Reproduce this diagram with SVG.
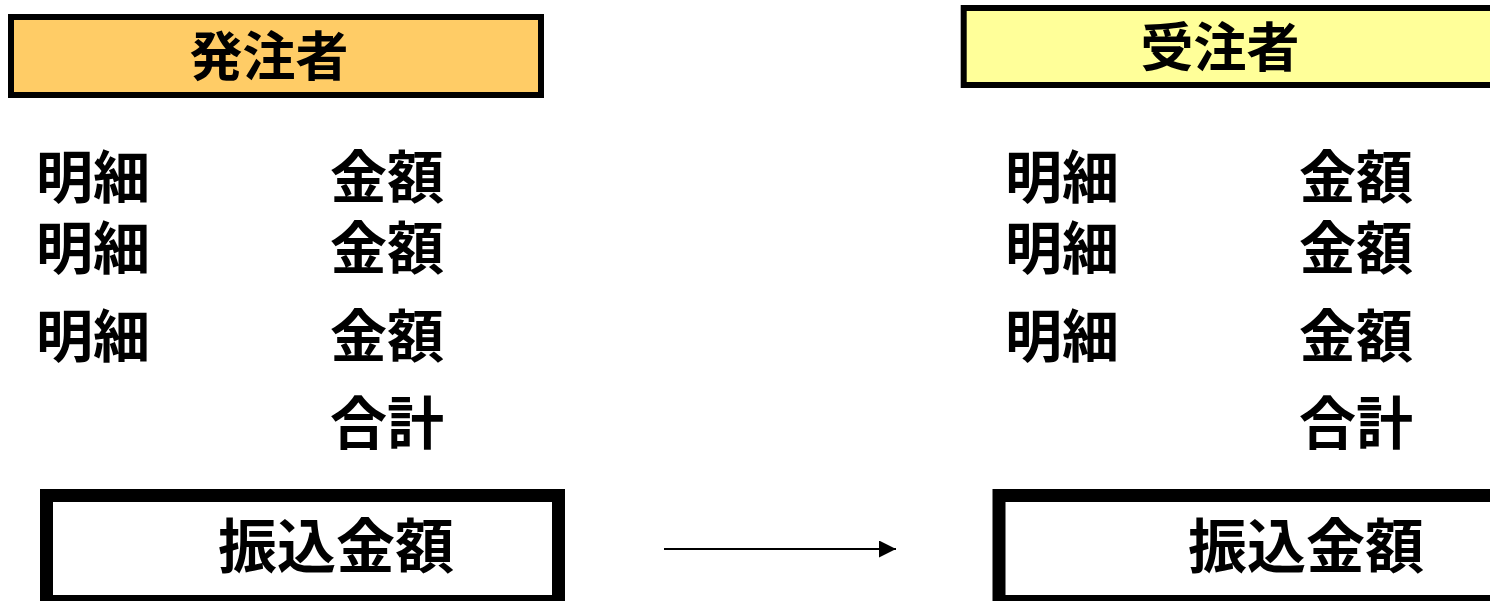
<svg xmlns="http://www.w3.org/2000/svg" width="1490" height="601" viewBox="0 0 1490 601">
<style>
.t{font-family:"Noto Sans CJK JP","Noto Sans CJK SC",sans-serif;font-weight:bold;fill:#000}
.h{font-size:53px;text-anchor:middle}
.r{font-size:57px}
.b{font-size:59px}
.hdr{stroke:#000;stroke-width:6}
.box{fill:#fff;stroke:#000;stroke-width:13}
</style>
<defs>
<marker id="ah" viewBox="0 0 10 10" refX="10" refY="5" markerWidth="18" markerHeight="17" markerUnits="userSpaceOnUse" orient="auto">
<path d="M0,0 L10,5 L0,10 Z" fill="#000"/>
</marker>
</defs>
<rect width="1490" height="601" fill="#fff"/>
<g id="orderer">
<rect class="hdr" x="11" y="17" width="530" height="78" fill="#FFCC66"/>
<text class="t h" x="269" y="76">発注者</text>
</g>
<g id="contractor">
<rect class="hdr" x="963.7" y="8" width="540" height="77" fill="#FFFF99"/>
<text class="t h" x="1220" y="67">受注者</text>
</g>
<g id="orderer-items">
<text class="t r" x="36" y="198">明細</text>
<text class="t r" x="330" y="198">金額</text>
<text class="t r" x="36" y="269">明細</text>
<text class="t r" x="330" y="269">金額</text>
<text class="t r" x="36" y="357">明細</text>
<text class="t r" x="330" y="357">金額</text>
<text class="t r" x="330" y="444">合計</text>
</g>
<g id="contractor-items">
<text class="t r" x="1005" y="198">明細</text>
<text class="t r" x="1299" y="198">金額</text>
<text class="t r" x="1005" y="269">明細</text>
<text class="t r" x="1299" y="269">金額</text>
<text class="t r" x="1005" y="357">明細</text>
<text class="t r" x="1299" y="357">金額</text>
<text class="t r" x="1299" y="444">合計</text>
</g>
<g id="transfer-orderer">
<rect class="box" x="46.5" y="495.5" width="512" height="106"/>
<text class="t b" x="218" y="568">振込金額</text>
</g>
<g id="transfer-contractor">
<rect class="box" x="999" y="495.5" width="512" height="106"/>
<text class="t b" x="1188" y="568">振込金額</text>
</g>
<g id="connectors">
<line x1="664" y1="549" x2="896" y2="549" stroke="#000" stroke-width="2" marker-end="url(#ah)"/>
</g>
</svg>
